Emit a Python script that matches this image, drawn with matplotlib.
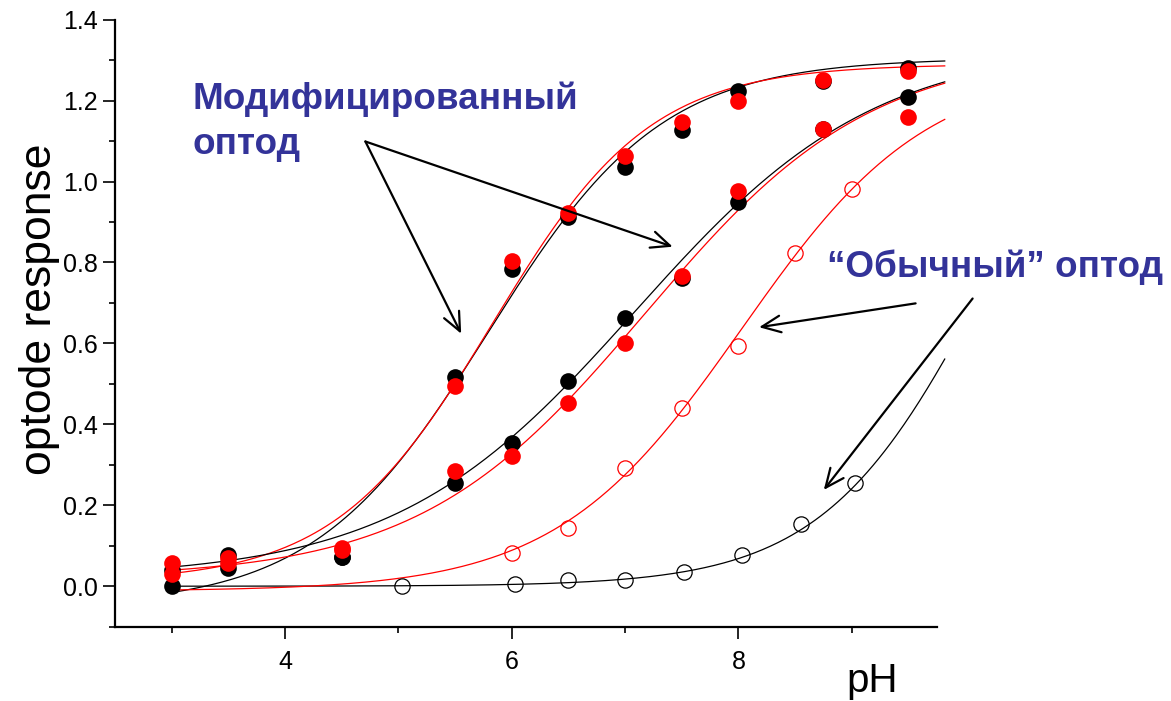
import numpy as np
import matplotlib
matplotlib.use("Agg")
import matplotlib.pyplot as plt
from matplotlib.ticker import MultipleLocator, FormatStrFormatter

plt.rcParams['font.family'] = ['Liberation Sans', 'DejaVu Sans']

# ---- measured points -------------------------------------------------------
ph_mod = [3.0, 3.5, 4.5, 5.5, 6.0, 6.5, 7.0, 7.5, 8.0, 8.75, 9.5]
mod_black_fast = [0.000, 0.076, 0.072, 0.518, 0.784, 0.912, 1.037, 1.127, 1.223, 1.248, 1.280]
mod_red_fast = [0.030, 0.069, 0.094, 0.495, 0.803, 0.922, 1.062, 1.147, 1.198, 1.250, 1.272]
mod_black_slow = [0.041, 0.044, 0.072, 0.256, 0.355, 0.508, 0.663, 0.762, 0.949, 1.130, 1.208]
mod_red_slow = [0.057, 0.057, 0.090, 0.284, 0.323, 0.454, 0.602, 0.767, 0.977, 1.130, 1.159]

ph_conv_black = [5.03, 6.03, 6.5, 7.0, 7.52, 8.03, 8.55, 9.03]
conv_black = [0.000, 0.005, 0.015, 0.016, 0.034, 0.078, 0.153, 0.256]
ph_conv_red = [6.0, 6.5, 7.0, 7.5, 8.0, 8.5, 9.0]
conv_red = [0.083, 0.145, 0.293, 0.441, 0.594, 0.824, 0.982]

# Boltzmann fit parameters (A1, A2, x0, dx)
fit_black_fast = (-0.050, 1.305, 5.792, 0.766)
fit_red_fast = (0.010, 1.290, 5.832, 0.696)
fit_black_slow = (0.020, 1.340, 7.090, 1.061)
fit_red_slow = (0.020, 1.330, 7.179, 0.999)
fit_conv_black = (0.000, 1.500, 10.19, 0.720)
fit_conv_red = (-0.012, 1.285, 8.030, 0.820)

x_ticks = [4, 6, 8]
y_ticks = [0.0, 0.2, 0.4, 0.6, 0.8, 1.0, 1.2, 1.4]


def boltzmann(x, a1, a2, x0, dx):
    return a2 + (a1 - a2) / (1.0 + np.exp((x - x0) / dx))


fig = plt.figure(figsize=(11.71, 7.01), dpi=100)
ax = fig.add_axes([0.0982, 0.106, 0.7018, 0.8659])

ph_fit = np.linspace(3.0, 9.82, 400)
curve_kw = dict(lw=0.9, clip_on=False, zorder=2)
for params, col in [(fit_black_fast, 'black'), (fit_red_fast, 'red'),
                    (fit_black_slow, 'black'), (fit_red_slow, 'red'),
                    (fit_conv_black, 'black'), (fit_conv_red, 'red')]:
    ax.plot(ph_fit, boltzmann(ph_fit, *params), color=col, **curve_kw)

dot_kw = dict(ls='none', marker='o', ms=12, mew=0, zorder=3, clip_on=False)
ax.plot(ph_mod, mod_black_slow, color='black', **dot_kw)
ax.plot(ph_mod, mod_black_fast, color='black', **dot_kw)
ax.plot(ph_mod, mod_red_slow, color='red', **dot_kw)
ax.plot(ph_mod, mod_red_fast, color='red', **dot_kw)

open_kw = dict(ls='none', marker='o', ms=11, mfc='none', mew=0.9, zorder=4, clip_on=False)
ax.plot(ph_conv_black, conv_black, mec='black', **open_kw)
ax.plot(ph_conv_red, conv_red, mec='red', **open_kw)

ax.set_xlim(2.5, 9.75)
ax.set_ylim(-0.1, 1.4)
for side in ('top', 'right'):
    ax.spines[side].set_visible(False)
for side in ('left', 'bottom'):
    ax.spines[side].set_linewidth(1.6)

ax.set_xticks(x_ticks)
ax.xaxis.set_minor_locator(MultipleLocator(1))
ax.set_yticks(y_ticks)
ax.yaxis.set_minor_locator(MultipleLocator(0.1))
ax.yaxis.set_major_formatter(FormatStrFormatter('%.1f'))
ax.tick_params(which='major', direction='out', length=8.5, width=1.2, labelsize=18, pad=4)
ax.tick_params(which='minor', direction='out', length=4.3, width=1.2)
ax.tick_params(axis='x', which='major', pad=8)

fig.text(40 / 1171, 1 - 309 / 701, 'optode response', rotation=90,
         ha='center', va='center', fontsize=32)
fig.text(846 / 1171, 1 - 692 / 701, 'pH', ha='left', va='baseline', fontsize=29)

blue = '#333399'
lbl_kw = dict(color=blue, fontsize=26.6, fontweight='bold', va='baseline', ha='left',
              clip_on=False)
ax.text(3.18, 1.180, 'Модифицированный', **lbl_kw)
ax.text(3.18, 1.069, 'оптод', **lbl_kw)
ax.text(8.78, 0.763, '“Обычный” оптод', **lbl_kw)

arrow_kw = dict(arrowstyle='->,head_length=0.45,head_width=0.2', lw=1.6,
                color='black', mutation_scale=30, shrinkA=0, shrinkB=0)
arrows = [((4.709, 1.099), (5.554, 0.624)),
          ((4.709, 1.099), (7.42, 0.839)),
          ((9.563, 0.699), (8.182, 0.640)),
          ((10.066, 0.711), (8.753, 0.238))]
for start, tip in arrows:
    ax.annotate('', xy=tip, xytext=start, arrowprops=arrow_kw, annotation_clip=False)

fig.savefig('out.png', dpi=100)
